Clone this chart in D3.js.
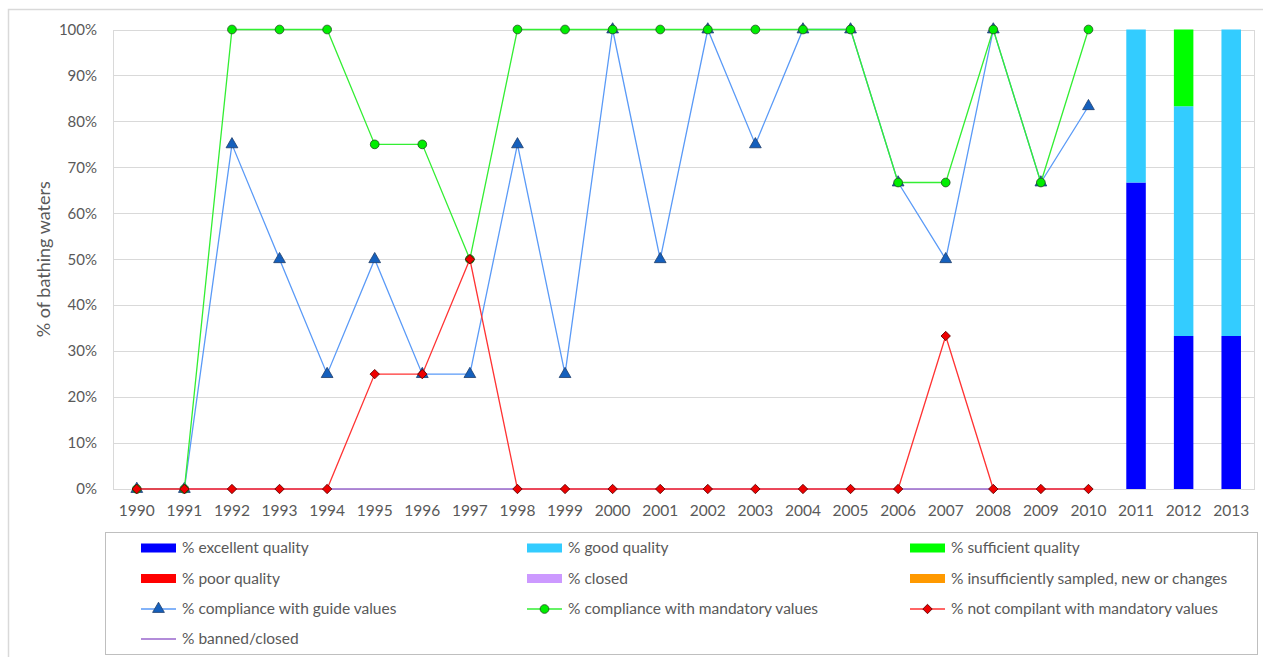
<!DOCTYPE html>
<html>
<head>
<meta charset="utf-8">
<script src="https://cdn.jsdelivr.net/npm/d3@7"></script>
<style>
  body { margin: 0; background: #fff; }
  text { font-family: Lato, "Open Sans", sans-serif; fill: #595959; }
</style>
</head>
<body>
<div id="chart"></div>
<script>
// Bathing water chart

const years = ["1990", "1991", "1992", "1993", "1994", "1995", "1996", "1997", "1998", "1999", "2000",
    "2001", "2002", "2003", "2004", "2005", "2006", "2007", "2008", "2009", "2010", "2011", "2012", "2013"];

// old directive lines (1990-2010)
const lineYears = years.slice(0, 21);
const guideValues = [0, 0, 75, 50, 25, 50, 25, 25, 75, 25, 100, 50, 100, 75, 100, 100, 66.7, 50, 100, 66.7, 83.3];
const mandatoryValues = [0, 0, 100, 100, 100, 75, 75, 50, 100, 100, 100, 100, 100, 100, 100, 100, 66.7, 66.7, 100, 66.7, 100];
const notCompliantValues = [0, 0, 0, 0, 0, 25, 25, 50, 0, 0, 0, 0, 0, 0, 0, 0, 0, 33.3, 0, 0, 0];
const bannedValues = [0, 0, 0, 0, 0, 0, 0, 0, 0, 0, 0, 0, 0, 0, 0, 0, 0, 0, 0, 0, 0];

// new directive bars (2011-2013)
const barYears = ["2011", "2012", "2013"];
const excellent = [66.7, 33.3, 33.3];
const good = [33.3, 50, 66.7];
const sufficient = [0, 16.7, 0];
const poor = [0, 0, 0];
const closed = [0, 0, 0];
const insufficient = [0, 0, 0];

const yTicks = [0, 10, 20, 30, 40, 50, 60, 70, 80, 90, 100];

const width = 1263;
const height = 657;
const margin = { left: 113, right: 8, top: 29.5, bottom: 168 };

const svg = d3.select("#chart")
    .append("svg")
    .attr("width", width)
    .attr("height", height);

// chart frame
svg.append("rect")
    .attr("x", 8.5).attr("y", 9.5)
    .attr("width", 1300).attr("height", 700)
    .attr("fill", "none")
    .attr("stroke", "#d9d9d9")
    .attr("stroke-width", 1.5);

const x = d3.scaleBand()
    .domain(years)
    .range([margin.left, width - margin.right]);

const y = d3.scaleLinear()
    .domain([0, 100])
    .range([height - margin.bottom, margin.top]);

// gridlines
svg.append("g")
    .selectAll("line")
    .data(yTicks)
    .enter()
    .append("line")
    .attr("x1", margin.left).attr("x2", width - margin.right)
    .attr("y1", d => Math.round(y(d)) + 0.5).attr("y2", d => Math.round(y(d)) + 0.5)
    .attr("stroke", "#d9d9d9");

// plot area border
svg.append("rect")
    .attr("x", margin.left + 0.5)
    .attr("y", Math.round(y(100)) + 0.5)
    .attr("width", width - margin.right - margin.left - 1)
    .attr("height", Math.round(y(0)) - Math.round(y(100)))
    .attr("fill", "none")
    .attr("stroke", "#d9d9d9");

// y tick labels
svg.append("g")
    .selectAll("text")
    .data(yTicks)
    .enter()
    .append("text")
    .attr("x", 97)
    .attr("y", d => y(d))
    .attr("dy", "0.35em")
    .attr("text-anchor", "end")
    .attr("font-size", "15px")
    .text(d => d + "%");

// x tick labels
svg.append("g")
    .selectAll("text")
    .data(years)
    .enter()
    .append("text")
    .attr("x", d => x(d) + x.bandwidth() / 2)
    .attr("y", y(0) + 22)
    .attr("dy", "0.35em")
    .attr("text-anchor", "middle")
    .attr("font-size", "15.5px")
    .text(d => d);

// y axis title
svg.append("text")
    .attr("transform", `translate(50,${(y(0) + y(100)) / 2}) rotate(-90)`)
    .attr("text-anchor", "middle")
    .attr("font-size", "18px")
    .text("% of bathing waters");

// stacked bars
const barKeys = ["excellent", "good", "sufficient", "poor", "closed", "insufficient"];
const barColors = {
    excellent: "#0000ff", good: "#33ccff", sufficient: "#00ff00",
    poor: "#ff0000", closed: "#cc99ff", insufficient: "#ff9900"
};
const barTable = barYears.map((yr, i) => ({
    year: yr, excellent: excellent[i], good: good[i], sufficient: sufficient[i],
    poor: poor[i], closed: closed[i], insufficient: insufficient[i]
}));
const stacked = d3.stack().keys(barKeys)(barTable);
const barW = x.bandwidth() * 0.41;

svg.append("g")
    .selectAll("g")
    .data(stacked)
    .enter()
    .append("g")
    .attr("fill", d => barColors[d.key])
    .selectAll("rect")
    .data(d => d.filter(s => s[1] > s[0]))
    .enter()
    .append("rect")
    .attr("x", d => x(d.data.year) + (x.bandwidth() - barW) / 2)
    .attr("width", barW)
    .attr("y", d => y(d[1]))
    .attr("height", d => y(d[0]) - y(d[1]));

// lines
const cx = yr => x(yr) + x.bandwidth() / 2;
const line = d3.line()
    .x((d, i) => cx(lineYears[i]))
    .y(d => y(d));

const triangle = d3.symbol().type(d3.symbolTriangle).size(60);
const circle = d3.symbol().type(d3.symbolCircle).size(60);
const diamond = d3.symbol().type(d3.symbolSquare).size(44);

function drawSeries(values, lineColor, marker, fill, stroke, rotate) {
    svg.append("path")
        .datum(values)
        .attr("d", line)
        .attr("fill", "none")
        .attr("stroke", lineColor)
        .attr("stroke-width", 1.3);
    if (!marker) return;
    svg.append("g")
        .selectAll("path")
        .data(values)
        .enter()
        .append("path")
        .attr("d", marker)
        .attr("transform", (d, i) => `translate(${cx(lineYears[i])},${y(d)})` + (rotate ? " rotate(45)" : ""))
        .attr("fill", fill)
        .attr("stroke", stroke)
        .attr("stroke-width", 0.8);
}

drawSeries(guideValues, "#5a9af7", triangle, "#1560bd", "#1f3d6b", false);
drawSeries(mandatoryValues, "#33ee33", circle, "#00ee00", "#1e4d1e", false);
drawSeries(bannedValues, "#9966cc", null);
drawSeries(notCompliantValues, "#ff3333", diamond, "#ee0000", "#5a0000", true);

// legend
const legendBox = { x: 105, y: 532, w: 1152, h: 122 };
svg.append("rect")
    .attr("x", legendBox.x + 0.5).attr("y", legendBox.y + 0.5)
    .attr("width", legendBox.w).attr("height", legendBox.h)
    .attr("fill", "#fff")
    .attr("stroke", "#bfbfbf");

const legendItems = [
    { label: "% excellent quality", type: "bar", color: "#0000ff" },
    { label: "% good quality", type: "bar", color: "#33ccff" },
    { label: "% sufficient quality", type: "bar", color: "#00ff00" },
    { label: "% poor quality", type: "bar", color: "#ff0000" },
    { label: "% closed", type: "bar", color: "#cc99ff" },
    { label: "% insufficiently sampled, new or changes", type: "bar", color: "#ff9900" },
    { label: "% compliance with guide values", type: "line", color: "#5a9af7", marker: triangle, fill: "#1560bd", stroke: "#1f3d6b" },
    { label: "% compliance with mandatory values", type: "line", color: "#33ee33", marker: circle, fill: "#00ee00", stroke: "#1e4d1e" },
    { label: "% not compilant with mandatory values", type: "line", color: "#ff3333", marker: diamond, fill: "#ee0000", stroke: "#5a0000", rotate: true },
    { label: "% banned/closed", type: "line", color: "#9966cc" }
];
const colX = [141, 527, 910];
const rowY = [548, 578.5, 609, 639];

const items = svg.append("g")
    .selectAll("g")
    .data(legendItems)
    .enter()
    .append("g")
    .attr("transform", (d, i) => `translate(${colX[i % 3]},${rowY[Math.floor(i / 3)]})`);

items.filter(d => d.type === "bar")
    .append("rect")
    .attr("x", 0).attr("y", -4.5)
    .attr("width", 35).attr("height", 9)
    .attr("fill", d => d.color);

items.filter(d => d.type === "line")
    .append("line")
    .attr("x1", 0).attr("x2", 35)
    .attr("stroke", d => d.color)
    .attr("stroke-width", 1.3);

items.filter(d => d.marker)
    .append("path")
    .attr("d", d => d.marker())
    .attr("transform", d => "translate(17.5,0)" + (d.rotate ? " rotate(45)" : ""))
    .attr("fill", d => d.fill)
    .attr("stroke", d => d.stroke)
    .attr("stroke-width", 0.8);

items.append("text")
    .attr("x", 41)
    .attr("dy", "0.35em")
    .attr("font-size", "15.5px")
    .text(d => d.label);
</script>
</body>
</html>
